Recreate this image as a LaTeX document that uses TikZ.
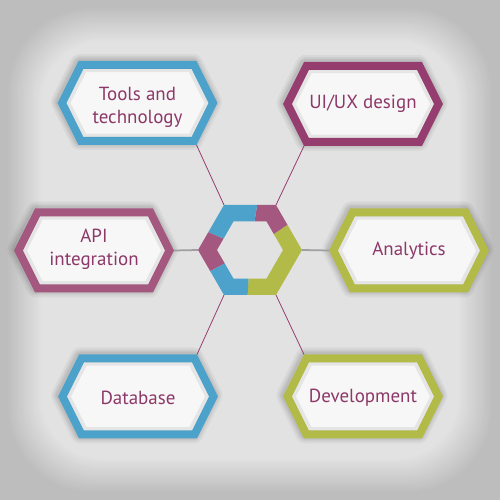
\documentclass[tikz,border=0pt]{standalone}
\usepackage{fontspec}
\setmainfont{PT Sans}
\usetikzlibrary{calc}

\definecolor{skyblue}{HTML}{4CA2CA}
\definecolor{plum}{HTML}{953D6F}
\definecolor{plumsoft}{HTML}{A4577F}
\definecolor{olive}{HTML}{B2BB48}
\definecolor{inktext}{HTML}{8C3868}
\definecolor{paper}{HTML}{F7F7F7}
\definecolor{bgdark}{HTML}{BDBDBD}
\definecolor{bglight}{HTML}{E2E2E2}

\tikzset{
  x=0.02cm, y=0.02cm,
  frame/.style={draw=#1, line width=0.16cm, line join=miter, fill=paper},
  halo/.style={draw=black, draw opacity=0.045, line width=#1, line join=round,
    xshift=-0.6pt, yshift=0.6pt},
  innershade/.style={draw=black, draw opacity=0.07, line width=0.07cm, line join=miter},
  boxlabel/.style={text=inktext, font=\fontsize{10.8}{13}\selectfont,
    align=center, inner sep=0pt},
  spoke/.style={draw=plum, line width=0.45pt},
  flatspoke/.style={draw=gray!75, line width=1pt},
}

% hexagonal label box: name, centre x, centre y, frame colour, text, text shift
\newcommand\hexbox[6]{%
  \foreach \w in {0.40cm,0.32cm,0.26cm,0.21cm}{
    \path[halo=\w] ({#2-75.5},{#3}) -- ({#2-56.5},{#3+38}) -- ({#2+56.5},{#3+38})
      -- ({#2+75.5},{#3}) -- ({#2+56.5},{#3-38}) -- ({#2-56.5},{#3-38}) -- cycle;
  }
  \path[frame=#4] ({#2-75.5},{#3}) -- ({#2-56.5},{#3+38}) -- ({#2+56.5},{#3+38})
    -- ({#2+75.5},{#3}) -- ({#2+56.5},{#3-38}) -- ({#2-56.5},{#3-38}) -- cycle;
  \path[innershade] ({#2-69},{#3}) -- ({#2-52.5},{#3+32.5}) -- ({#2+52.5},{#3+32.5})
    -- ({#2+69},{#3}) -- ({#2+52.5},{#3-32.5}) -- ({#2-52.5},{#3-32.5}) -- cycle;
  \node[boxlabel] (#1) at (#2,{#3+#6}) {#5};
  \coordinate (#1-e)  at ({#2+80},{#3});
  \coordinate (#1-w)  at ({#2-80},{#3});
  \coordinate (#1-ne) at ({#2+59},{#3+42});
  \coordinate (#1-nw) at ({#2-59},{#3+42});
  \coordinate (#1-se) at ({#2+59},{#3-42});
  \coordinate (#1-sw) at ({#2-59},{#3-42});
}

\begin{document}
\begin{tikzpicture}
\useasboundingbox (0,0) rectangle (500,500);

% soft-edged backdrop
\fill[bgdark] (0,0) rectangle (500,500);
\foreach \i in {0,...,16}{
  \pgfmathsetmacro\ins{6+\i*2.2}
  \pgfmathsetmacro\mixv{\i*100/16}
  \pgfmathsetmacro\rad{1.7-\i*0.03}
  \fill[bglight!\mixv!bgdark, rounded corners=\rad cm]
    (\ins,\ins) rectangle ({500-\ins},{500-\ins});
}

% hub ring, split into coloured segments
\coordinate (hub) at (250,250);
\coordinate (hub-0)   at (302,250);
\coordinate (hub-60)  at (276,295);
\coordinate (hub-120) at (224,295);
\coordinate (hub-180) at (198,250);
\coordinate (hub-240) at (224,205);
\coordinate (hub-300) at (276,205);
\begin{scope}[even odd rule]
  \clip (hub-0) -- (hub-60) -- (hub-120) -- (hub-180) -- (hub-240) -- (hub-300) -- cycle
    (283,250) -- (266.5,278.6) -- (233.5,278.6) -- (217,250) -- (233.5,221.4) -- (266.5,221.4) -- cycle;
  \fill[olive]    (hub) -- ++(-93:80) arc[start angle=-93, end angle=34, radius=80] -- cycle;
  \fill[plumsoft] (hub) -- ++(34:80)  arc[start angle=34,  end angle=81, radius=80] -- cycle;
  \fill[skyblue]  (hub) -- ++(81:80)  arc[start angle=81,  end angle=157, radius=80] -- cycle;
  \fill[plumsoft] (hub) -- ++(157:80) arc[start angle=157, end angle=208, radius=80] -- cycle;
  \fill[skyblue]  (hub) -- ++(208:80) arc[start angle=208, end angle=267, radius=80] -- cycle;
\end{scope}

% label boxes
\hexbox{tools}{137.5}{397}{skyblue}{Tools and\\technology}{-4}
\hexbox{uiux}{363}{396}{plum}{UI/UX design}{0}
\hexbox{api}{94}{249.5}{plumsoft}{API\\integration}{1}
\hexbox{analytics}{409}{249.5}{olive}{Analytics}{0}
\hexbox{database}{138}{103.5}{skyblue}{Database}{-1}
\hexbox{development}{363}{103.5}{olive}{Development}{-1}

% spokes from the hub corners to the boxes
\draw[spoke] (hub-120) -- (tools-se);
\draw[spoke] (hub-60) -- (uiux-sw);
\draw[flatspoke] (hub-180) -- (api-e);
\draw[flatspoke] (hub-0) -- (analytics-w);
\draw[spoke] (hub-240) -- (database-ne);
\draw[spoke] (hub-300) -- (development-nw);
\end{tikzpicture}
\end{document}
